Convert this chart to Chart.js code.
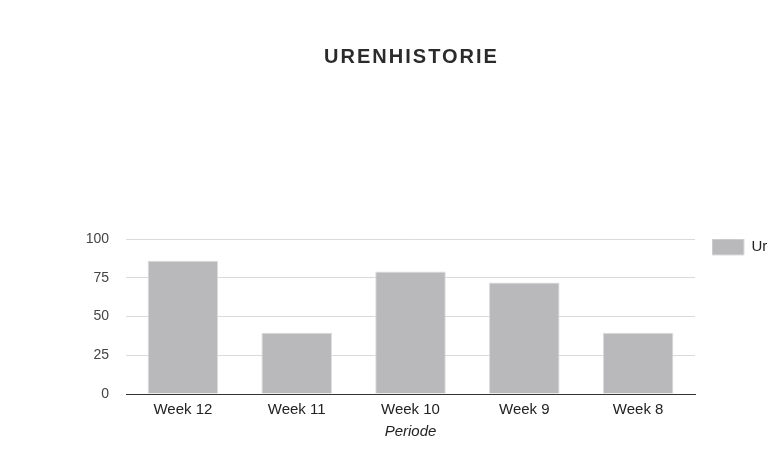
<!DOCTYPE html>
<html>
<head>
<meta charset="utf-8">
<title>Urenhistorie</title>
<script src="https://cdn.jsdelivr.net/npm/chart.js@4.4.1/dist/chart.umd.min.js"></script>
<style>
    body { margin: 0; background: #fff; overflow: hidden; }
    #wrap { width: 768px; height: 455px; }
</style>
</head>
<body>
<div id="wrap"><canvas id="urenChart" width="768" height="455"></canvas></div>
<script>
// Chart data
const chartTitle = 'URENHISTORIE';
const weeks = ['Week 12', 'Week 11', 'Week 10', 'Week 9', 'Week 8'];
const hours = [86, 39.5, 79, 72, 39.5];
const seriesName = 'Uren';
const axisTitle = 'Periode';
const yTicks = [0, 25, 50, 75, 100];

const fontFamily = '"Liberation Sans", Arial, sans-serif';

// Draws the spaced-out title centred over the plot area
const spacedTitle = {
    id: 'spacedTitle',
    afterDraw(chart) {
        const ctx = chart.ctx;
        const area = chart.chartArea;
        ctx.save();
        ctx.font = 'bold 20px ' + fontFamily;
        ctx.fillStyle = '#2b2b2b';
        ctx.textAlign = 'center';
        ctx.textBaseline = 'middle';
        if ('letterSpacing' in ctx) ctx.letterSpacing = '2px';
        ctx.fillText(chartTitle, (area.left + area.right) / 2 + 1, 57);
        ctx.restore();
    }
};

document.addEventListener('DOMContentLoaded', () => {
    const ctx = document.getElementById('urenChart').getContext('2d');

    new Chart(ctx, {
        type: 'bar',
        data: {
            labels: weeks,
            datasets: [{
                label: seriesName,
                data: hours,
                backgroundColor: '#b9b8ba',
                borderColor: '#dcdcdc',
                borderWidth: 1,
                categoryPercentage: 1,
                barPercentage: 0.62
            }]
        },
        options: {
            responsive: false,
            animation: false,
            layout: {
                padding: { top: 239, bottom: 14, left: 0, right: 0 }
            },
            plugins: {
                title: { display: false },
                tooltip: { enabled: false },
                legend: {
                    position: 'right',
                    align: 'start',
                    maxWidth: 56,
                    labels: {
                        boxWidth: 32,
                        boxHeight: 16,
                        padding: 0,
                        color: '#222',
                        font: { family: fontFamily, size: 15 }
                    }
                }
            },
            scales: {
                x: {
                    grid: { display: false, drawTicks: false },
                    border: { display: true, color: '#333', width: 1 },
                    ticks: {
                        padding: 7,
                        color: '#222',
                        font: { family: fontFamily, size: 15 }
                    },
                    title: {
                        display: true,
                        text: axisTitle,
                        color: '#222',
                        padding: { top: -3, bottom: 0 },
                        font: { family: fontFamily, size: 15, style: 'italic' }
                    }
                },
                y: {
                    min: 0,
                    max: 100,
                    afterBuildTicks: (scale) => {
                        scale.ticks = yTicks.map(v => ({ value: v }));
                    },
                    afterFit: (scale) => { scale.width = 126; },
                    grid: { color: '#dadada', drawTicks: false },
                    border: { display: false },
                    ticks: {
                        padding: 17,
                        color: '#444',
                        font: { family: fontFamily, size: 14 }
                    }
                },
                // spacer between plot area and legend
                gap: {
                    type: 'linear',
                    position: 'right',
                    display: true,
                    afterFit: (scale) => { scale.width = 17; },
                    grid: { display: false },
                    border: { display: false },
                    ticks: { display: false }
                }
            }
        },
        plugins: [spacedTitle]
    });
});
</script>
</body>
</html>
